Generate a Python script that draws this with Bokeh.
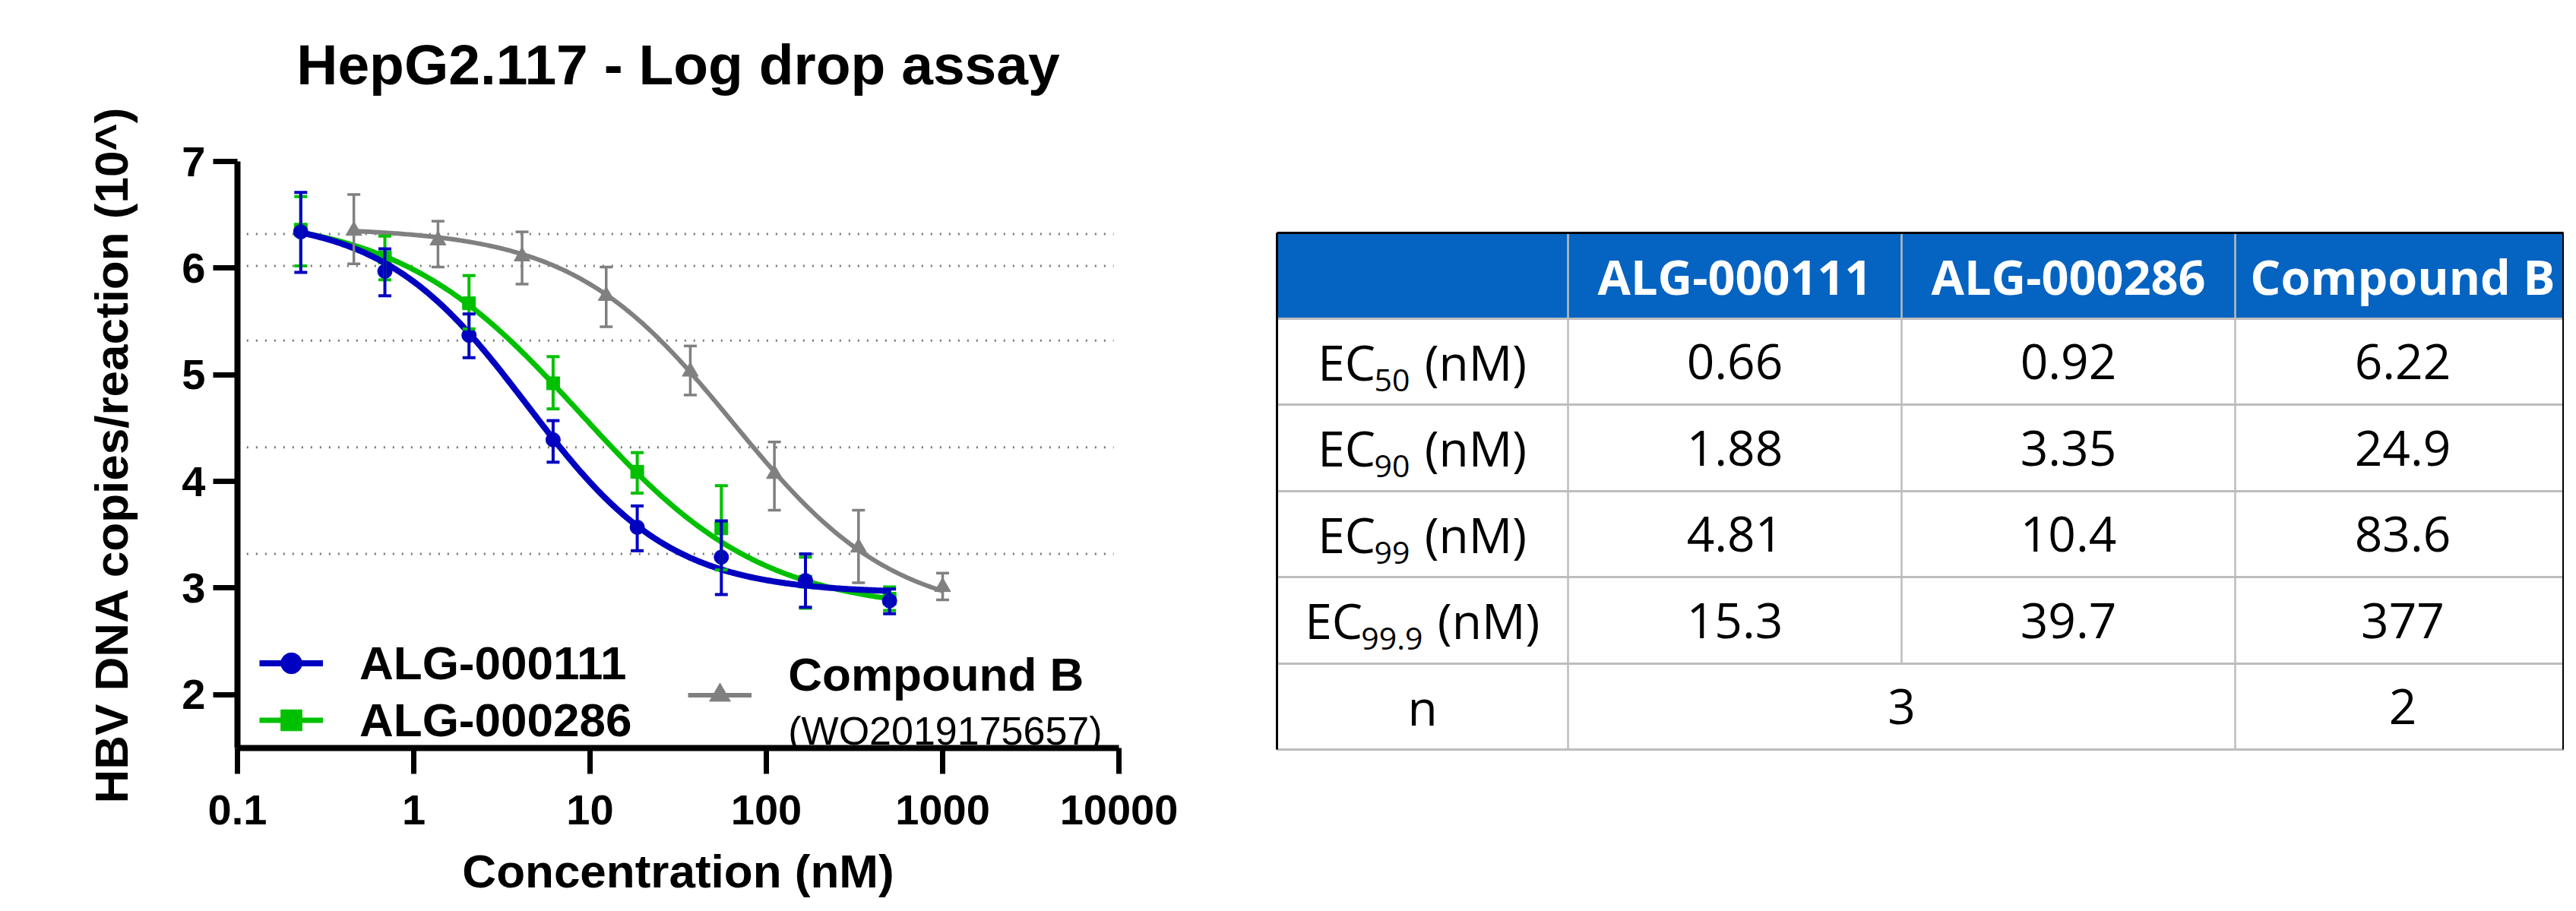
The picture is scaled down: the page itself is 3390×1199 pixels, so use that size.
import numpy as np
from bokeh.plotting import figure
from bokeh.models import (ColumnDataSource, Range1d, FixedTicker, Whisker, TeeHead,
                          Legend, LegendItem, Label, LabelSet, Title)
from bokeh.layouts import row
from bokeh.embed import file_html
from bokeh.resources import INLINE
from bokeh.core.properties import value

# ---------------- data ----------------
title_text = "HepG2.117 - Log drop assay"
x_title = "Concentration (nM)"
y_title = "HBV DNA copies/reaction (10^)"
x_ticks = [0.1, 1, 10, 100, 1000, 10000]
x_tick_labels = ["0.1", "1", "10", "100", "1000", "10000"]
y_ticks = [2, 3, 4, 5, 6, 7]
y_tick_labels = ["2", "3", "4", "5", "6", "7"]

conc_alg = [0.2286, 0.6859, 2.058, 6.173, 18.52, 55.56, 166.7, 500.0]
conc_cmpb = [0.4572, 1.372, 4.115, 12.35, 37.04, 111.1, 333.3, 1000.0]

alg111_mean = [6.34, 5.97, 5.37, 4.39, 3.57, 3.29, 3.07, 2.88]
alg111_upper = [6.71, 6.18, 5.57, 4.57, 3.77, 3.63, 3.32, 2.99]
alg111_lower = [5.96, 5.74, 5.16, 4.18, 3.35, 2.94, 2.82, 2.76]

alg286_mean = [6.36, 6.10, 5.67, 4.92, 4.09, 3.56, 3.06, 2.90]
alg286_upper = [6.67, 6.30, 5.93, 5.17, 4.27, 3.96, 3.29, 3.01]
alg286_lower = [6.02, 5.89, 5.43, 4.68, 3.89, 3.17, 2.81, 2.79]

cmpb_mean = [6.35, 6.26, 6.11, 5.74, 5.03, 4.07, 3.38, 3.01]
cmpb_upper = [6.69, 6.44, 6.34, 6.01, 5.27, 4.37, 3.73, 3.14]
cmpb_lower = [6.04, 6.01, 5.85, 5.45, 4.81, 3.73, 3.05, 2.89]

# four-parameter logistic fits: (top, bottom, EC50 nM, Hill slope)
fit_alg111 = (6.48, 2.95, 4.4, 1.06)
fit_alg286 = (6.50, 2.78, 8.8, 0.84)
fit_cmpb = (6.38, 2.72, 64.7, 0.95)

ref_names = ["VC", "EC", "EC", "EC", "EC"]
ref_subs = ["", "50", "90", "99", "99.9"]
ref_levels = [6.32, 6.02, 5.32, 4.32, 3.32]

series_names = ["ALG-000111", "ALG-000286", "Compound B"]
cmpb_note = "(WO2019175657)"

table_header = ["ALG-000111", "ALG-000286", "Compound B"]
table_row_subs = ["50", "90", "99", "99.9"]
ec_alg111 = ["0.66", "1.88", "4.81", "15.3"]
ec_alg286 = ["0.92", "3.35", "10.4", "39.7"]
ec_cmpb = ["6.22", "24.9", "83.6", "377"]
n_label = "n"
n_alg = "3"
n_cmpb = "2"

# ---------------- style ----------------
BLUE = "#0000C0"
GREEN = "#00C000"
GRAY = "#808080"
HEADER_BLUE = "#0563C1"
GRID_GRAY = "#BDBDBD"
ARIAL = "Liberation Sans"
TFONT = "Open Sans"


def logistic(x, top, bottom, ec50, hill):
    return bottom + (top - bottom) / (1.0 + (x / ec50) ** hill)


p = figure(width=1642, height=1183, x_axis_type="log",
           x_range=Range1d(0.1, 10000), y_range=Range1d(1.5, 7),
           output_backend="svg", toolbar_location=None,
           min_border_left=312, min_border_right=170,
           min_border_top=212, min_border_bottom=199)
p.frame_align = False
p.outline_line_color = None
p.grid.visible = False
p.background_fill_color = "white"

# chart title (outermost) with an invisible spacer panel between it and the frame
p.title.text = title_text
p.title.align = "center"
p.title.text_font = ARIAL
p.title.text_font_style = "bold"
p.title.text_font_size = "75px"
p.title.text_color = "black"
p.title.standoff = 0
p.add_layout(Title(text=" ", text_font_size="1px", standoff=83), "above")

for ax in (p.xaxis[0], p.yaxis[0]):
    ax.axis_line_width = 8
    ax.axis_line_color = "black"
    ax.major_tick_line_width = 7
    ax.major_tick_line_color = "black"
    ax.minor_tick_line_color = None
    ax.major_tick_in = 0
    ax.major_label_text_font = ARIAL
    ax.major_label_text_font_style = "bold"
    ax.major_label_text_font_size = "56px"
    ax.major_label_text_color = "black"
    ax.axis_label_text_font = ARIAL
    ax.axis_label_text_font_style = "bold"
    ax.axis_label_text_font_size = "62px"
    ax.axis_label_text_color = "black"

p.xaxis.ticker = FixedTicker(ticks=x_ticks)
p.xaxis.major_label_overrides = dict(zip(x_ticks, x_tick_labels))
p.xaxis.major_tick_out = 34
p.xaxis.major_label_standoff = 28

p.yaxis.ticker = FixedTicker(ticks=y_ticks)
p.yaxis.major_label_overrides = dict(zip(y_ticks, y_tick_labels))
p.yaxis.major_tick_out = 32
p.yaxis.major_label_standoff = 10
p.yaxis.axis_label = y_title
p.yaxis.axis_label_standoff = 55

# x-axis title as a panel below the axis, separated by an invisible spacer panel
p.add_layout(Title(text=" ", text_font_size="1px", standoff=19), "below")
p.add_layout(Title(text=x_title, align="center", text_font=ARIAL, text_font_style="bold",
                   text_font_size="62px", text_color="black", standoff=0,
                   vertical_align="bottom"), "below")

# reference (dotted) lines
REF_X0, REF_X1 = 0.113, 9330
p.segment(x0=[REF_X0] * len(ref_levels), x1=[REF_X1] * len(ref_levels),
          y0=ref_levels, y1=ref_levels, line_color="#777777",
          line_width=3, line_dash="2 10")

ref_src = ColumnDataSource(dict(x=[10000] * len(ref_levels), y=ref_levels,
                                name=ref_names, sub=ref_subs))
p.add_layout(LabelSet(x="x", y="y", text="name", source=ref_src, x_offset=17, y_offset=0,
                      text_baseline="middle", text_font=value(ARIAL),
                      text_font_size="49px", text_color="black"))
p.add_layout(LabelSet(x="x", y="y", text="sub", source=ref_src, x_offset=87, y_offset=-13,
                      text_baseline="middle", text_font=value(ARIAL),
                      text_font_size="37px", text_color="black"))

renderers = {}
specs = [
    ("cmpb", conc_cmpb, cmpb_mean, cmpb_upper, cmpb_lower, fit_cmpb, GRAY, "triangle", 21, 6, 3.5),
    ("alg286", conc_alg, alg286_mean, alg286_upper, alg286_lower, fit_alg286, GREEN, "square", 17, 7, 4),
    ("alg111", conc_alg, alg111_mean, alg111_upper, alg111_lower, fit_alg111, BLUE, "circle", 19, 8, 4),
]
for key, xs, ys, up, lo, fit, color, marker, msize, lw, ew in specs:
    xc = np.logspace(np.log10(xs[0]), np.log10(xs[-1]), 300)
    yc = logistic(xc, *fit)
    lr = p.line(xc, yc, line_color=color, line_width=lw)
    src = ColumnDataSource(dict(x=xs, y=ys, up=up, lo=lo))
    w = Whisker(source=src, base="x", upper="up", lower="lo", dimension="height",
                line_color=color, line_width=ew, level="glyph",
                upper_head=TeeHead(size=17, line_color=color, line_width=ew),
                lower_head=TeeHead(size=17, line_color=color, line_width=ew))
    p.add_layout(w)
    sr = p.scatter("x", "y", source=src, marker=marker, size=msize,
                   fill_color=color, line_color=color)
    renderers[key] = (lr, sr)

leg1 = Legend(items=[LegendItem(label=series_names[0], renderers=list(renderers["alg111"])),
                     LegendItem(label=series_names[1], renderers=list(renderers["alg286"]))],
              location=(29, 1), orientation="vertical", glyph_width=84, glyph_height=69,
              label_height=69, label_standoff=48, spacing=4, padding=0, margin=0,
              border_line_color=None, background_fill_alpha=0,
              label_text_font=ARIAL, label_text_font_style="bold", label_text_font_size="62px",
              label_text_color="black")
p.add_layout(leg1)
leg2 = Legend(items=[LegendItem(label=" ", renderers=list(renderers["cmpb"]))],
              location=(593, 35), orientation="vertical", glyph_width=84, glyph_height=69,
              label_height=69, label_standoff=0, spacing=0, padding=0, margin=0,
              border_line_color=None, background_fill_alpha=0,
              label_text_font=ARIAL, label_text_font_size="62px")
p.add_layout(leg2)
p.add_layout(Label(x=133, y=2.19, text=series_names[2], text_font=ARIAL, text_font_style="bold",
                   text_font_size="62px", text_baseline="alphabetic", text_color="black"))
p.add_layout(Label(x=133, y=1.66, text=cmpb_note, text_font=ARIAL,
                   text_font_size="52px", text_baseline="alphabetic", text_color="black"))

# ---------------- table ----------------
t = figure(width=1732, height=1183, x_range=Range1d(1650, 3382), y_range=Range1d(1191, 8),
           output_backend="svg", toolbar_location=None, min_border=0,
           min_border_left=0, min_border_right=0, min_border_top=0, min_border_bottom=0,
           x_axis_location=None, y_axis_location=None)
t.frame_align = False
t.outline_line_color = None
t.grid.visible = False

col_edges = [1688, 2071, 2510, 2949, 3390]
row_edges = [314, 427, 540, 654, 767, 881, 994]
col_c = [(a + b) / 2 for a, b in zip(col_edges[:-1], col_edges[1:])]
row_c = [(a + b) / 2 for a, b in zip(row_edges[:-1], row_edges[1:])]
RIGHT = 3381

t.quad(left=[col_edges[0]], right=[col_edges[-1]], top=[row_edges[0]], bottom=[row_edges[1]],
       fill_color=HEADER_BLUE, line_color=None)
# gray grid
hx0, hx1, hy = [], [], []
for y in row_edges[1:]:
    hx0.append(col_edges[0]); hx1.append(col_edges[-1]); hy.append(y)
t.segment(x0=hx0, x1=hx1, y0=hy, y1=hy, line_color=GRID_GRAY, line_width=3)
vx, vy0, vy1 = [], [], []
for i, x in enumerate(col_edges[1:-1]):
    vx.append(x); vy0.append(row_edges[0])
    vy1.append(row_edges[-2] if i == 1 else row_edges[-1])
t.segment(x0=vx, x1=vx, y0=vy0, y1=vy1, line_color=GRID_GRAY, line_width=2.5)
# black borders
t.segment(x0=[col_edges[0], col_edges[0], RIGHT], x1=[RIGHT, col_edges[0], RIGHT],
          y0=[row_edges[0], row_edges[0], row_edges[0]], y1=[row_edges[0], row_edges[-1], row_edges[-1]],
          line_color="black", line_width=3)

FS = 64
t.text(x=col_c[1:], y=[row_c[0]] * 3, text=table_header, text_align="center",
       text_baseline="middle", text_font=value(TFONT), text_font_style="bold",
       text_font_size="63px", text_color="white")

vx_, vy_, vt_ = [], [], []
for c, vals in enumerate([ec_alg111, ec_alg286, ec_cmpb]):
    for r, v in enumerate(vals):
        vx_.append(col_c[c + 1]); vy_.append(row_c[r + 1]); vt_.append(v)
vx_ += [col_c[0], col_edges[2], col_c[3]]
vy_ += [row_c[5]] * 3
vt_ += [n_label, n_alg, n_cmpb]
t.text(x=vx_, y=vy_, text=vt_, text_align="center", text_baseline="middle",
       text_font=value(TFONT), text_font_size=f"{FS}px", text_color="black")

# row labels: EC + subscript + (nM)
SUB_FS = 41
cw = {"0": 0.572, "5": 0.572, "9": 0.572, ".": 0.266}
ec_x, sub_x, nm_x, mid_y = [], [], [], []
for r, s in enumerate(table_row_subs):
    w_ec = 1.16 * FS
    w_sub = sum(cw.get(ch, 0.572) for ch in s) * SUB_FS
    w_sp = 0.3 * FS
    w_nm = 2.11 * FS
    start = col_c[0] - (w_ec + w_sub + w_sp + w_nm) / 2
    ec_x.append(start); sub_x.append(start + w_ec); nm_x.append(start + w_ec + w_sub + w_sp)
    mid_y.append(row_c[r + 1])
t.text(x=ec_x, y=mid_y, text=["EC"] * 4, text_baseline="middle",
       text_font=value(TFONT), text_font_size=f"{FS}px", text_color="black")
t.text(x=sub_x, y=[m + 24 for m in mid_y], text=table_row_subs, text_baseline="middle",
       text_font=value(TFONT), text_font_size=f"{SUB_FS}px", text_color="black")
t.text(x=nm_x, y=mid_y, text=["(nM)"] * 4, text_baseline="middle",
       text_font=value(TFONT), text_font_size=f"{FS}px", text_color="black")

layout = row(p, t)
open("out.html", "w").write(file_html(layout, INLINE))
